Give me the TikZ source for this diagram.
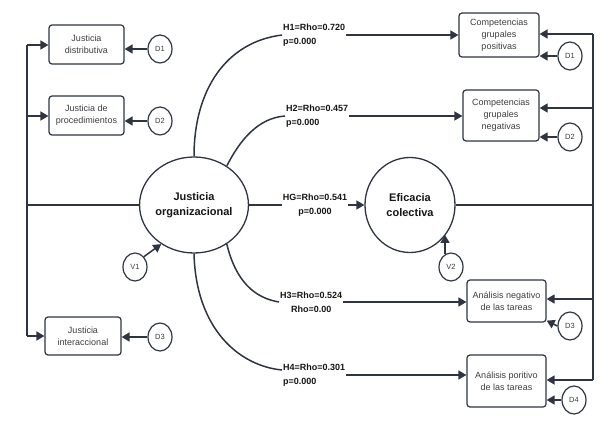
\documentclass[tikz,border=0pt]{standalone}
\usepackage{fontspec}
\setmainfont{Liberation Sans}
\usetikzlibrary{arrows.meta,shapes.geometric}
\definecolor{lineclr}{HTML}{2E3440}
\definecolor{smalltxt}{HTML}{3C3C3C}
\definecolor{bigtxt}{HTML}{151515}
\tikzset{
  conn/.style={draw=lineclr,line width=1.5pt},
  arr/.style={conn,-{Triangle[length=8pt,width=9pt]}},
  boxnode/.style={draw=lineclr,line width=1.2pt,rounded corners=3pt,inner sep=0pt,align=center,
    text=smalltxt,font=\fontsize{9}{12}\selectfont},
  small/.style={ellipse,draw=lineclr,line width=1.2pt,minimum width=24pt,minimum height=28pt,inner sep=0pt,
    text=smalltxt,font=\fontsize{7.5}{9}\selectfont},
  big/.style={ellipse,draw=lineclr,line width=1.3pt,inner sep=0pt,
    align=center,text=bigtxt,font=\fontsize{11}{15}\selectfont\bfseries},
  lbl/.style={inner sep=1pt,text=bigtxt,font=\fontsize{9}{14}\selectfont\bfseries},
}
\begin{document}
\begin{tikzpicture}[x=1pt,y=-1pt]
\useasboundingbox (0,0) rectangle (613,422);
% left boxes
\node[boxnode,minimum width=75pt,minimum height=39pt] (b1) at (86.5,44.5) {Justicia\\distributiva};
\node[boxnode,minimum width=75pt,minimum height=39pt] (b2) at (86.5,115.5) {Justicia de\\procedimientos};
\node[boxnode,minimum width=76pt,minimum height=38pt] (b3) at (83,336) {Justicia\\interaccional};
\node[small] (D1) at (160,49) {D1};
\node[small] (D2) at (160,121) {D2};
\node[small] (D3) at (160,337) {D3};
% big circles
\node[big,minimum width=93pt,minimum height=96pt] (JO) at (194,205) {Justicia\\organizacional};
\node[big,minimum width=90pt,minimum height=95pt] (EC) at (410,205) {Eficacia\\colectiva};
\node[small] (V1) at (135,267) {V1};
\node[small] (V2) at (451,267) {V2};
% right boxes
\node[boxnode,minimum width=80pt,minimum height=44pt] (c1) at (499,35) {Competencias\\grupales\\positivas};
\node[boxnode,minimum width=76pt,minimum height=51pt] (c2) at (501,115.5) {Competencias\\grupales\\negativas};
\node[boxnode,minimum width=79pt,minimum height=42pt] (a1) at (506.5,301) {Análisis negativo\\de las tareas};
\node[boxnode,minimum width=79pt,minimum height=52pt] (a2) at (506.5,381) {Análisis poritivo\\de las tareas};
\node[small] (RD1) at (570,56) {D1};
\node[small] (RD2) at (570,137) {D2};
\node[small] (RD3) at (570,326) {D3};
\node[small] (RD4) at (574,400) {D4};
% labels
\node[lbl,align=left,anchor=west] (h1) at (282,35) {H1=Rho=0.720\\p=0.000};
\node[lbl,align=left,anchor=west] (h2) at (285,116) {H2=Rho=0.457\\p=0.000};
\node[lbl,align=center,fill=white] (hg) at (315,205) {HG=Rho=0.541\\p=0.000};
\node[lbl,align=center,anchor=west] (h3) at (279,302) {H3=Rho=0.524\\Rho=0.00};
\node[lbl,align=left,anchor=west] (h4) at (282,375) {H4=Rho=0.301\\p=0.000};
% left bus
\coordinate (L1) at (27,45);
\coordinate (L2) at (27,116);
\coordinate (L3) at (27,336);
\draw[conn] (L1) -- (L3);
\draw[arr] (L1) -- (L1 -| b1.west);
\draw[arr] (L2) -- (L2 -| b2.west);
\draw[arr] (L3) -- (L3 -| b3.west);
\draw[conn] (JO.west) -- (JO.west -| L1);
\draw[arr] (D1.west) -- (D1.west -| b1.east);
\draw[arr] (D2.west) -- (D2.west -| b2.east);
\draw[arr] (D3.west) -- (D3.west -| b3.east);
% V arrows
\draw[arr] (V1.north east) -- (JO.230);
\draw[arr] (V2.115) -- (V2.115 |- EC.-40);
% hypothesis paths
\draw[conn] (JO.north) .. controls (194,90) and (226,42) .. (h1.west);
\draw[arr] (h1.east) -- (c1.west);
\draw[conn] (JO.50) .. controls (240,140) and (258,118) .. (h2.west);
\draw[arr] (h2.east) -- (h2.east -| c2.west);
\draw[conn] (JO.east) -- (hg.west);
\draw[arr] (hg.east) -- (EC.west);
\draw[conn] (JO.-50) .. controls (236,282) and (255,298) .. (h3.west);
\draw[arr] (h3.east) -- (h3.east -| a1.west);
\draw[conn] (JO.south) .. controls (196,330) and (240,366) .. ([yshift=5pt]h4.west);
\draw[arr] (h4.east) -- (h4.east -| a2.west);
% right bus
\coordinate (R1) at (593,34);
\coordinate (R2) at (593,108);
\coordinate (R3) at (593,299);
\coordinate (R4) at (593,380);
\draw[conn] (R1) -- (R4);
\draw[arr] (R1) -- (R1 -| c1.east);
\draw[arr] (R2) -- (R2 -| c2.east);
\draw[arr] (R3) -- (R3 -| a1.east);
\draw[arr] (R4) -- (R4 -| a2.east);
\draw[conn] (EC.east) -- (EC.east -| R1);
\draw[arr] (RD1.west) -- (RD1.west -| c1.east);
\draw[arr] (RD2.west) -- (RD2.west -| c2.east);
\draw[arr] (RD3.west) -- ([yshift=2pt]a1.south east);
\draw[arr] (RD4.west) -- (RD4.west -| a2.east);
\end{tikzpicture}
\end{document}
